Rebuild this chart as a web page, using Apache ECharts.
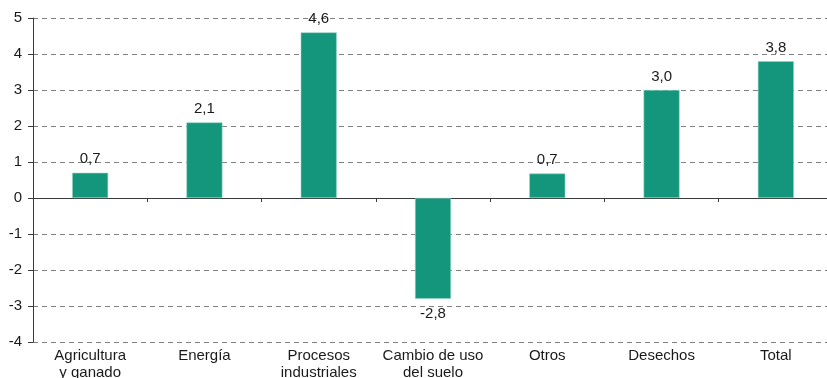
<!DOCTYPE html>
<html>
<head>
<meta charset="utf-8">
<script src="https://cdn.jsdelivr.net/npm/echarts@6/dist/echarts.min.js"></script>
<style>
html,body{margin:0;padding:0;background:#fff;}
#c{width:827px;height:378px;}
</style>
</head>
<body>
<div id="c"></div>
<script>
const categories = ['Agricultura\ny ganado', 'Energía', 'Procesos\nindustriales', 'Cambio de uso\ndel suelo', 'Otros', 'Desechos', 'Total'];
const values = [0.7, 2.1, 4.6, -2.8, 0.68, 3.0, 3.8];
const yMin = -4, yMax = 5, yStep = 1;

const FONT = '"Liberation Sans", Arial, sans-serif';
const chart = echarts.init(document.getElementById('c'));
chart.setOption({
  animation: false,
  backgroundColor: '#ffffff',
  grid: { left: 33, top: 18, width: 800, height: 324, containLabel: false, outerBoundsMode: 'none' },
  xAxis: {
    type: 'category',
    data: categories,
    boundaryGap: true,
    axisLine: { show: true, onZero: true, lineStyle: { color: '#3a3a3a', width: 1 } },
    axisTick: { show: true, length: 4, inside: false, lineStyle: { color: '#3a3a3a' } },
    axisLabel: {
      show: true, interval: 0, color: '#1a1a1a', fontFamily: FONT, fontSize: 15,
      lineHeight: 17, margin: 5
    },
    position: 'bottom'
  },
  yAxis: {
    type: 'value',
    min: yMin, max: yMax, interval: yStep,
    axisLine: { show: true, lineStyle: { color: '#3a3a3a', width: 1 } },
    axisTick: { show: true, length: 5, lineStyle: { color: '#3a3a3a' } },
    axisLabel: { color: '#1a1a1a', fontFamily: FONT, fontSize: 15, margin: 11 },
    splitLine: { show: true, lineStyle: { color: '#808080', type: [5, 4], width: 1 } }
  },
  series: [{
    type: 'bar',
    barWidth: 36,
    data: values.map(v => ({
      value: v,
      label: { position: v < 0 ? 'bottom' : 'top', distance: v < 0 ? 8 : 6 }
    })),
    itemStyle: { color: '#13967c', borderColor: '#8fd3bf', borderWidth: 0.6 },
    label: {
      show: true,
      color: '#1a1a1a', fontFamily: FONT, fontSize: 15,
      formatter: p => p.value.toFixed(1).replace('.', ',')
    }
  }]
});
</script>
</body>
</html>
